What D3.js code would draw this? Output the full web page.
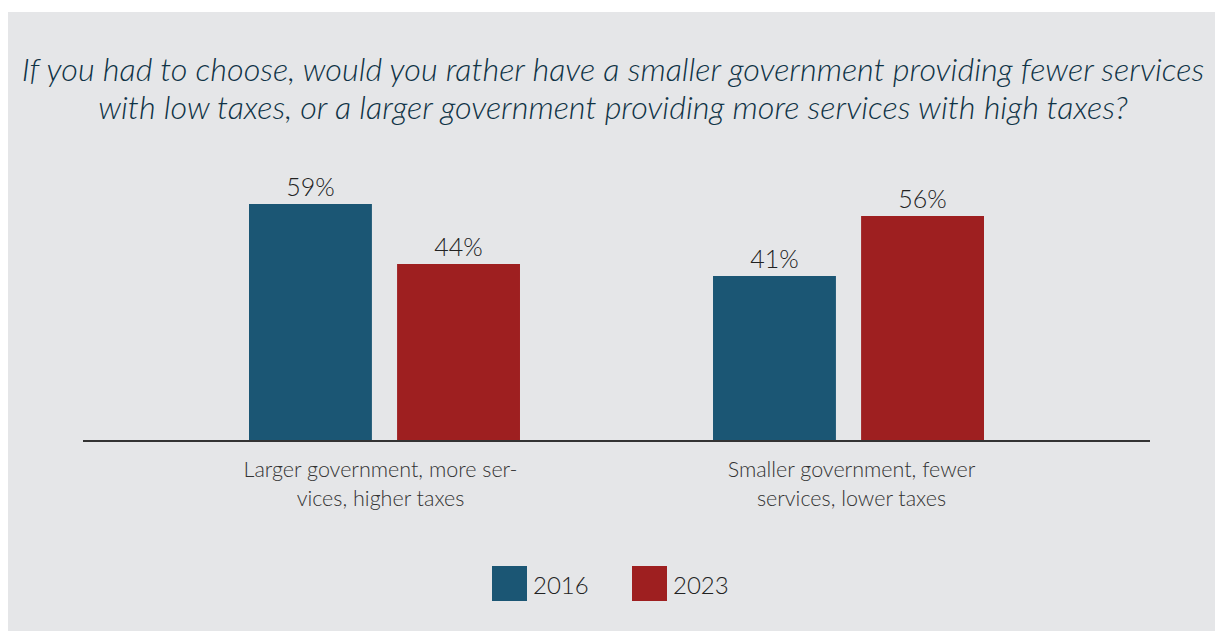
<!DOCTYPE html>
<html>
<head>
<meta charset="utf-8">
<script src="https://cdn.jsdelivr.net/npm/d3@7"></script>
<style>
  body { margin: 0; background: #ffffff; }
  svg { display: block; }
  text { font-family: Lato, "Open Sans", sans-serif; }
</style>
</head>
<body>
<div id="container"></div>
<script>
let width = 1215;
let height = 631;

// data
let categories = ["Larger government, more services, higher taxes", "Smaller government, fewer services, lower taxes"];
let categoryLines = [["Larger government, more ser-", "vices, higher taxes"], ["Smaller government, fewer", "services, lower taxes"]];
let years = ["2016", "2023"];
let values2016 = [59, 41];
let values2023 = [44, 56];
let titleLines = [
  "If you had to choose, would you rather have a smaller government providing fewer services",
  "with low taxes, or a larger government providing more services with high taxes?"
];

let colors = { "2016": "#1b5674", "2023": "#9e1f20" };

let svg = d3.select("#container")
  .append("svg")
  .attr("width", width)
  .attr("height", height);

// gray panel
svg.append("rect")
  .attr("x", 8).attr("y", 12)
  .attr("width", width - 8).attr("height", height - 12)
  .attr("fill", "#e5e6e8");

// title
svg.selectAll(".title")
  .data(titleLines)
  .enter()
  .append("text")
  .attr("class", "title")
  .attr("x", 613)
  .attr("y", (d, i) => 81 + i * 38)
  .attr("text-anchor", "middle")
  .attr("font-size", 32.4)
  .attr("font-style", "italic")
  .attr("font-weight", 300)
  .attr("fill", "#0f3346")
  .text(d => d);

let baseline = 440;

let x0 = d3.scaleBand()
  .domain(categories)
  .range([249, 984])
  .paddingInner(0.416)
  .paddingOuter(0);

let x1 = d3.scaleBand()
  .domain(years)
  .range([0, x0.bandwidth()])
  .paddingInner(0.17)
  .paddingOuter(0);

let y = d3.scaleLinear()
  .domain([0, 59])
  .range([baseline, 204]);

let rows = [];
categories.forEach((c, i) => {
  rows.push({ cat: c, year: "2016", value: values2016[i] });
  rows.push({ cat: c, year: "2023", value: values2023[i] });
});

svg.selectAll(".bar")
  .data(rows)
  .enter()
  .append("rect")
  .attr("class", "bar")
  .attr("x", d => x0(d.cat) + x1(d.year))
  .attr("y", d => y(d.value))
  .attr("width", x1.bandwidth())
  .attr("height", d => baseline - y(d.value))
  .attr("fill", d => colors[d.year]);

svg.selectAll(".value")
  .data(rows)
  .enter()
  .append("text")
  .attr("class", "value")
  .attr("x", d => x0(d.cat) + x1(d.year) + x1.bandwidth() / 2)
  .attr("y", d => y(d.value) - 8)
  .attr("text-anchor", "middle")
  .attr("font-size", 25)
  .attr("font-weight", 300)
  .attr("fill", "#222222")
  .text(d => d.value + "%");

// axis line
svg.append("line")
  .attr("x1", 83).attr("x2", 1150)
  .attr("y1", baseline + 1).attr("y2", baseline + 1)
  .attr("stroke", "#333333")
  .attr("stroke-width", 2);

// category labels
categories.forEach((c, i) => {
  let cx = x0(c) + x0.bandwidth() / 2 + (i === 0 ? -4 : 3);
  let t = svg.append("text")
    .attr("x", cx)
    .attr("y", 477)
    .attr("text-anchor", "middle")
    .attr("font-size", 21.5)
    .attr("font-weight", 300)
    .attr("fill", "#333333");
  categoryLines[i].forEach((line, j) => {
    t.append("tspan")
      .attr("x", cx)
      .attr("dy", j === 0 ? 0 : 29)
      .text(line);
  });
});

// legend
let legend = svg.selectAll(".legend")
  .data(years)
  .enter()
  .append("g")
  .attr("class", "legend")
  .attr("transform", (d, i) => "translate(" + (492 + i * 140) + ",566)");

legend.append("rect")
  .attr("width", 35)
  .attr("height", 35)
  .attr("fill", d => colors[d]);

legend.append("text")
  .attr("x", 41)
  .attr("y", 28)
  .attr("font-size", 24)
  .attr("font-weight", 300)
  .attr("fill", "#222222")
  .text(d => d);
</script>
</body>
</html>
